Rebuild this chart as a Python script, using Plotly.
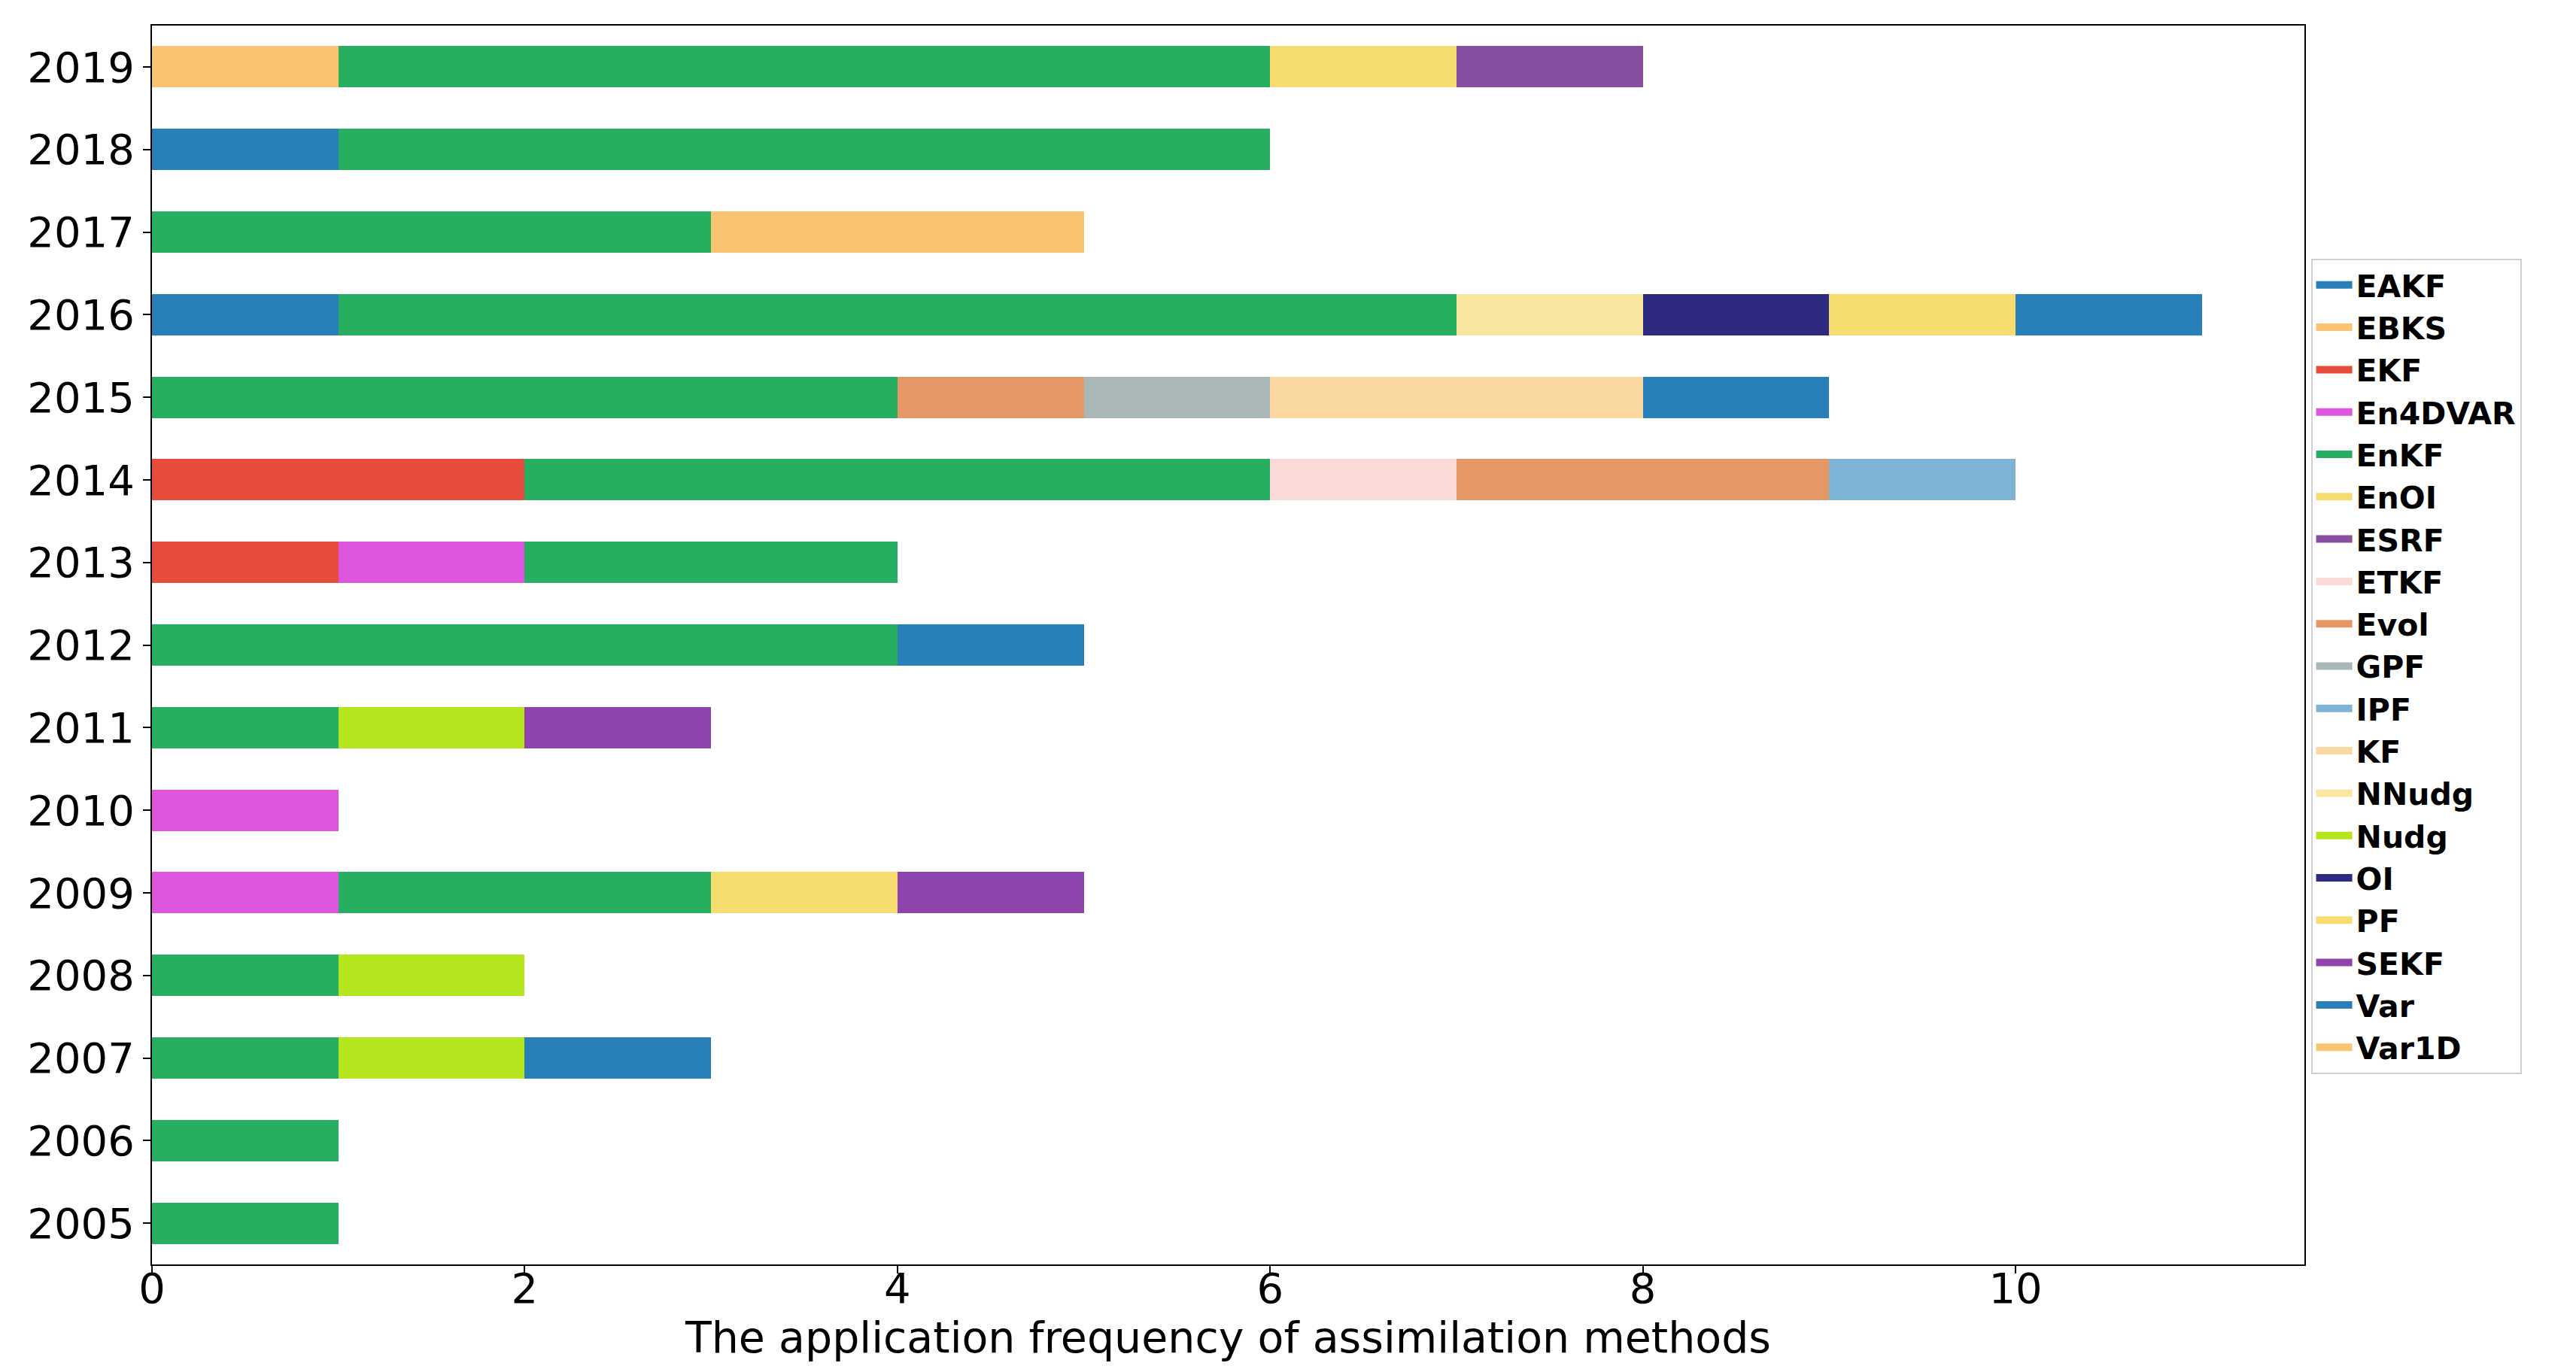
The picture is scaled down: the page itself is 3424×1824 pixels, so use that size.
import plotly.graph_objects as go

years = ['2005', '2006', '2007', '2008', '2009', '2010', '2011', '2012',
         '2013', '2014', '2015', '2016', '2017', '2018', '2019']

methods = ['EAKF', 'EBKS', 'EKF', 'En4DVAR', 'EnKF', 'EnOI', 'ESRF', 'ETKF', 'Evol',
           'GPF', 'IPF', 'KF', 'NNudg', 'Nudg', 'OI', 'PF', 'SEKF', 'Var', 'Var1D']

#            05 06 07 08 09 10 11 12 13 14 15 16 17 18 19
EAKF    = [0, 0, 0, 0, 0, 0, 0, 0, 0, 0, 0, 1, 0, 1, 0]
EBKS    = [0, 0, 0, 0, 0, 0, 0, 0, 0, 0, 0, 0, 0, 0, 1]
EKF     = [0, 0, 0, 0, 0, 0, 0, 0, 1, 2, 0, 0, 0, 0, 0]
En4DVAR = [0, 0, 0, 0, 1, 1, 0, 0, 1, 0, 0, 0, 0, 0, 0]
EnKF    = [1, 1, 1, 1, 2, 0, 1, 4, 2, 4, 4, 6, 3, 5, 5]
EnOI    = [0, 0, 0, 0, 1, 0, 0, 0, 0, 0, 0, 0, 0, 0, 1]
ESRF    = [0, 0, 0, 0, 0, 0, 0, 0, 0, 0, 0, 0, 0, 0, 1]
ETKF    = [0, 0, 0, 0, 0, 0, 0, 0, 0, 1, 0, 0, 0, 0, 0]
Evol    = [0, 0, 0, 0, 0, 0, 0, 0, 0, 2, 1, 0, 0, 0, 0]
GPF     = [0, 0, 0, 0, 0, 0, 0, 0, 0, 0, 1, 0, 0, 0, 0]
IPF     = [0, 0, 0, 0, 0, 0, 0, 0, 0, 1, 0, 0, 0, 0, 0]
KF      = [0, 0, 0, 0, 0, 0, 0, 0, 0, 0, 2, 0, 0, 0, 0]
NNudg   = [0, 0, 0, 0, 0, 0, 0, 0, 0, 0, 0, 1, 0, 0, 0]
Nudg    = [0, 0, 1, 1, 0, 0, 1, 0, 0, 0, 0, 0, 0, 0, 0]
OI      = [0, 0, 0, 0, 0, 0, 0, 0, 0, 0, 0, 1, 0, 0, 0]
PF      = [0, 0, 0, 0, 0, 0, 0, 0, 0, 0, 0, 1, 0, 0, 0]
SEKF    = [0, 0, 0, 0, 1, 0, 1, 0, 0, 0, 0, 0, 0, 0, 0]
Var     = [0, 0, 1, 0, 0, 0, 0, 1, 0, 0, 1, 1, 0, 0, 0]
Var1D   = [0, 0, 0, 0, 0, 0, 0, 0, 0, 0, 0, 0, 2, 0, 0]

values = [EAKF, EBKS, EKF, En4DVAR, EnKF, EnOI, ESRF, ETKF, Evol,
          GPF, IPF, KF, NNudg, Nudg, OI, PF, SEKF, Var, Var1D]

colors = ['#2980b9', '#f8c471', '#e74c3c', '#dd55dd', '#28ae60', '#f7dc6f', '#884ea0',
          '#fadbd8', '#e59866', '#aab7b8', '#7fb3d5', '#fad7a0', '#f9e79f', '#b5e61d',
          '#2e2a80', '#f7dc6f', '#8e44ad', '#2980b9', '#f8c471']

fig = go.Figure()
for name, vals, col in zip(methods, values, colors):
    fig.add_trace(go.Bar(x=vals, y=years, orientation='h', name=name,
                         marker=dict(color=col, line=dict(width=0)),
                         width=0.5, showlegend=False))
for name, col in zip(methods, colors):
    fig.add_trace(go.Scatter(x=[None], y=[None], mode='lines', name=name,
                             line=dict(color=col, width=12), showlegend=True))

tickfont = dict(family='DejaVu Sans', size=56, color='black')
fig.update_layout(
    width=3424, height=1824,
    barmode='stack',
    plot_bgcolor='white', paper_bgcolor='white',
    margin=dict(l=194, r=369, t=26, b=151),
    font=dict(family='DejaVu Sans', color='black'),
    legend=dict(x=1.003, y=0.812, xanchor='left', yanchor='top',
                traceorder='normal',
                font=dict(family='DejaVu Sans', size=41, weight='bold', color='black'),
                bordercolor='#d0d0d0', borderwidth=2, bgcolor='white',
                itemwidth=48, tracegroupgap=0),
    xaxis=dict(range=[0, 11.55], tickvals=[0, 2, 4, 6, 8, 10], tickfont=tickfont,
               showgrid=False, zeroline=False, showline=True, linecolor='black',
               linewidth=2, mirror=True, ticks='outside', ticklen=10, tickwidth=2,
               tickcolor='black', ticklabelstandoff=-28,
               title=dict(text='The application frequency of assimilation methods',
                          font=dict(family='DejaVu Sans', size=57, color='black'),
                          standoff=0),
               automargin=False),
    yaxis=dict(type='category', categoryorder='array', categoryarray=years,
               range=[-0.5, 14.5], tickfont=tickfont, showgrid=False, zeroline=False,
               showline=True, linecolor='black', linewidth=2, mirror=True,
               ticks='outside', ticklen=10, tickwidth=2, tickcolor='black',
               automargin=False),
)

fig.write_html('out.html')
